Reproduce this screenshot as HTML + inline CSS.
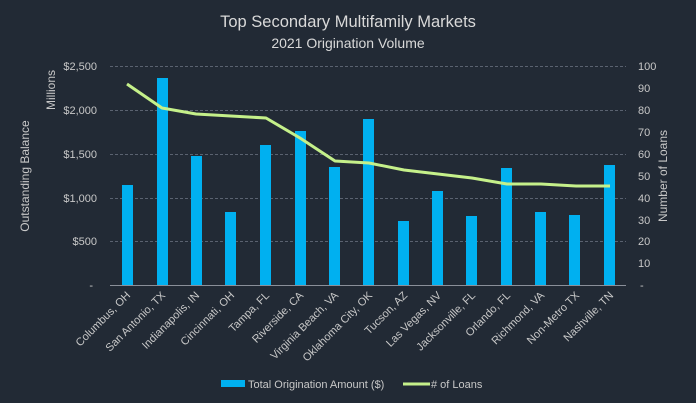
<!DOCTYPE html>
<html><head><meta charset="utf-8"><style>
body{margin:0;background:#222a35;}
svg{display:block;font-family:"Liberation Sans",sans-serif;}
</style></head><body>
<svg width="696" height="403" viewBox="0 0 696 403">
<rect width="696" height="403" fill="#222a35"/>
<text x="348" y="27" text-anchor="middle" font-size="16.5" fill="#d9d9d9">Top Secondary Multifamily Markets</text>
<text x="348" y="48" text-anchor="middle" font-size="14" fill="#d9d9d9">2021 Origination Volume</text>
<g stroke="#5a6270" stroke-dasharray="3,2" stroke-width="1">
<line x1="110" y1="66.5" x2="626" y2="66.5"/><line x1="110" y1="110.5" x2="626" y2="110.5"/>
<line x1="110" y1="154.5" x2="626" y2="154.5"/><line x1="110" y1="198.5" x2="626" y2="198.5"/>
<line x1="110" y1="241.5" x2="626" y2="241.5"/>
</g>
<line x1="110" y1="285.5" x2="626" y2="285.5" stroke="#8a8f99" stroke-width="1"/>
<g font-size="11" fill="#c8c8c8" text-anchor="end">
<text x="97" y="70">$2,500</text><text x="97" y="114">$2,000</text><text x="97" y="158">$1,500</text>
<text x="97" y="202">$1,000</text><text x="97" y="245">$500</text><text x="93" y="289">-</text>
</g>
<g font-size="11" fill="#c8c8c8" text-anchor="start">
<text x="638" y="70">100</text><text x="638" y="92">90</text><text x="638" y="114">80</text><text x="638" y="136">70</text>
<text x="638" y="158">60</text><text x="638" y="180">50</text><text x="638" y="202">40</text><text x="638" y="224">30</text>
<text x="638" y="245">20</text><text x="638" y="267">10</text><text x="640" y="289">-</text>
</g>
<text transform="translate(29,176) rotate(-90)" text-anchor="middle" font-size="12" fill="#c8c8c8">Outstanding Balance</text>
<text transform="translate(55,90) rotate(-90)" text-anchor="middle" font-size="12" fill="#c8c8c8">Millions</text>
<text transform="translate(667,176) rotate(-90)" text-anchor="middle" font-size="12" fill="#c8c8c8">Number of Loans</text>
<g fill="#00b0f0">
<rect x="122" y="185" width="11" height="100"/><rect x="157" y="78" width="11" height="207"/>
<rect x="191" y="156" width="11" height="129"/><rect x="225" y="212" width="11" height="73"/>
<rect x="260" y="145" width="11" height="140"/><rect x="295" y="131" width="11" height="154"/>
<rect x="329" y="167" width="11" height="118"/><rect x="363" y="119" width="11" height="166"/>
<rect x="398" y="221" width="11" height="64"/><rect x="432" y="191" width="11" height="94"/>
<rect x="466" y="216" width="11" height="69"/><rect x="501" y="168" width="11" height="117"/>
<rect x="535" y="212" width="11" height="73"/><rect x="569" y="215" width="11" height="70"/>
<rect x="604" y="165" width="11" height="120"/>
</g>
<polyline fill="none" stroke="#c5f08a" stroke-width="3" stroke-linejoin="round" points="127,84 162,108 196,114 231,116 266,118 300,138 335,161 369,163 404,170 438,174 472,178 507,184 541,184 576,186 610,186"/>
<g font-size="11" fill="#c8c8c8" text-anchor="end">
<text transform="translate(131,296) rotate(-45)">Columbus, OH</text>
<text transform="translate(166,296) rotate(-45)">San Antonio, TX</text>
<text transform="translate(200,296) rotate(-45)">Indianapolis, IN</text>
<text transform="translate(235,296) rotate(-45)">Cincinnati, OH</text>
<text transform="translate(270,296) rotate(-45)">Tampa, FL</text>
<text transform="translate(304,296) rotate(-45)">Riverside, CA</text>
<text transform="translate(339,296) rotate(-45)">Virginia Beach, VA</text>
<text transform="translate(373,296) rotate(-45)">Oklahoma City, OK</text>
<text transform="translate(408,296) rotate(-45)">Tucson, AZ</text>
<text transform="translate(442,296) rotate(-45)">Las Vegas, NV</text>
<text transform="translate(476,296) rotate(-45)">Jacksonville, FL</text>
<text transform="translate(511,296) rotate(-45)">Orlando, FL</text>
<text transform="translate(545,296) rotate(-45)">Richmond, VA</text>
<text transform="translate(580,296) rotate(-45)">Non-Metro TX</text>
<text transform="translate(614,296) rotate(-45)">Nashville, TN</text>
</g>
<rect x="221" y="380" width="24" height="7" fill="#00b0f0"/>
<text x="248" y="388" font-size="11" fill="#c8c8c8">Total Origination Amount ($)</text>
<line x1="403" y1="384" x2="430" y2="384" stroke="#c5f08a" stroke-width="3"/>
<text x="431" y="388" font-size="11" fill="#c8c8c8"># of Loans</text>
</svg>
</body></html>
